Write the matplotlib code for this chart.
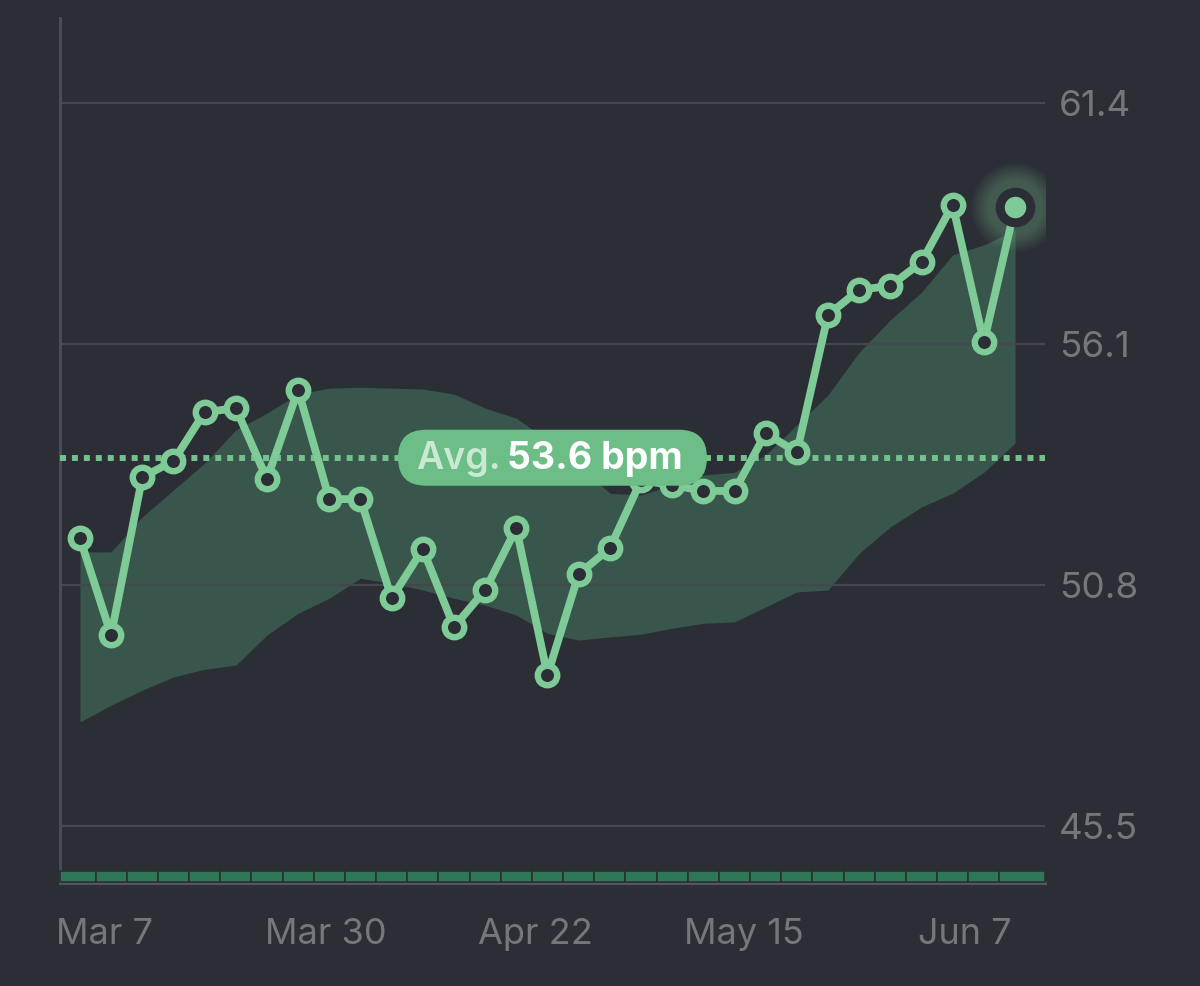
import matplotlib

matplotlib.use("Agg")
import matplotlib.patches as mpatches
import matplotlib.pyplot as plt
import matplotlib.transforms as mtransforms
import numpy as np

plt.rcParams["font.family"] = ["Inter", "DejaVu Sans"]

BG = "#2c2e36"
GREEN = "#7ecb98"
BAND = "#38564b"
GRID = "#45474e"
TEXT_GREY = "#76777d"
STRIP = "#2f7856"

# resting heart rate readings (bpm), one per period
bpm = [51.83, 49.70, 53.17, 53.53, 54.60, 54.69, 53.13, 55.09, 52.69, 52.69,
       50.51, 51.59, 49.88, 50.69, 52.05, 48.82, 51.04, 51.61, 53.10, 53.00,
       52.87, 52.87, 54.14, 53.72, 56.74, 57.29, 57.38, 57.90, 59.16, 56.14,
       59.11]

# typical range band
band_high = [51.53, 51.53, 52.30, 52.89, 53.48, 54.21, 54.58, 55.00, 55.13, 55.15,
             55.13, 55.11, 55.00, 54.69, 54.47, 53.99, 53.44, 52.82, 52.78, 53.00,
             53.22, 53.28, 53.66, 54.32, 54.98, 55.92, 56.63, 57.24, 58.06, 58.28,
             58.61]
band_low = [47.79, 48.16, 48.49, 48.78, 48.95, 49.04, 49.70, 50.18, 50.51, 50.95,
            50.84, 50.69, 50.51, 50.36, 50.14, 49.74, 49.59, 49.66, 49.72, 49.85,
            49.96, 49.99, 50.32, 50.65, 50.69, 51.50, 52.08, 52.52, 52.82, 53.28,
            53.92]

avg_bpm = 53.6
y_ticks = [45.5, 50.8, 56.1, 61.4]
date_labels = ["Mar 7", "Mar 30", "Apr 22", "May 15", "Jun 7"]
date_pos = [0.8, 7.9, 14.6, 21.3, 28.4]

x = np.arange(len(bpm))
x_lo, x_hi = -0.64, 30.96

fig = plt.figure(figsize=(12, 9.86), dpi=100, facecolor=BG)
ax = fig.add_axes([0.05, 0.1045, 0.8208, 0.8773], facecolor=BG)
ax.set_xlim(x_lo, x_hi)
ax.set_ylim(44.25, 63.27)

# grid + axes
for yv in y_ticks:
    ax.axhline(yv, color=GRID, lw=1.6, zorder=2)
for side in ("top", "right"):
    ax.spines[side].set_visible(False)
ax.spines["left"].set_color("#4a4c53")
ax.spines["left"].set_linewidth(2.2)
ax.spines["bottom"].set_color("#55575d")
ax.spines["bottom"].set_linewidth(2.2)

ax.yaxis.tick_right()
ax.set_yticks(y_ticks)
ax.set_yticklabels([f"{v:.1f}" for v in y_ticks])
ax.tick_params(axis="y", length=0, pad=10, labelsize=26.5, labelcolor=TEXT_GREY)
ax.set_xticks(date_pos)
ax.set_xticklabels(date_labels)
ax.tick_params(axis="x", length=0, pad=25, labelsize=26, labelcolor=TEXT_GREY)

# range band
ax.fill_between(x, band_low, band_high, color=BAND, lw=0, zorder=1)

# avg dotted line
ax.axhline(avg_bpm, color="#74c08f", lw=4.3, dashes=(1, 1), zorder=3)

# segmented strip at the bottom
mids = (x[:-1] + x[1:]) / 2
lefts = np.concatenate([[x_lo], mids])
rights = np.concatenate([mids, [x_hi]])
ax.bar(lefts, 0.24, bottom=44.28, width=rights - lefts, align="edge",
       color=STRIP, edgecolor=BG, lw=1.2, zorder=3, clip_on=False)

# line + markers
ax.plot(x, bpm, color=GREEN, lw=5.6, zorder=5, solid_joinstyle="round")
ax.plot(x[:-1], bpm[:-1], "o", ms=14, mfc=BG, mec=GREEN, mew=4.6, zorder=6)

# last point with glow
for r in np.linspace(64, 40, 12):
    ax.plot(x[-1], bpm[-1], "o", ms=r, mfc=GREEN, mec="none", alpha=0.03, zorder=6)
ax.plot(x[-1], bpm[-1], "o", ms=22, mfc=GREEN, mec=BG, mew=6.5, zorder=7)

# avg label
cx = 15.16
tr = fig.dpi_scale_trans + mtransforms.ScaledTranslation(cx, avg_bpm, ax.transData)
box = mpatches.FancyBboxPatch((-1.545, -0.28), 3.09, 0.56,
                              boxstyle="round,pad=0,rounding_size=0.28",
                              fc="#6dbd87", ec="none", transform=tr, zorder=8)
ax.add_patch(box)
ax.text(-0.52, -0.01, "Avg.", transform=tr, ha="right", va="center",
        fontsize=27, fontweight="semibold", color="#c9e9d3", zorder=9)
ax.text(-0.45, -0.01, "53.6 bpm", transform=tr, ha="left", va="center",
        fontsize=27, fontweight="bold", color="white", zorder=9)

fig.savefig("out.png", dpi=100, facecolor=BG)
